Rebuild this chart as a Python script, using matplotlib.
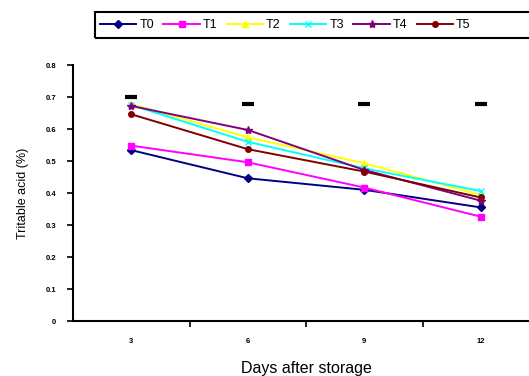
import matplotlib.pyplot as plt
from matplotlib.patches import Rectangle

# storage days (category axis) and titratable acid per treatment
days = ['3', '6', '9', '12']
t0 = [0.534, 0.446, 0.410, 0.355]
t1 = [0.548, 0.496, 0.417, 0.326]
t2 = [0.678, 0.574, 0.493, 0.394]
t3 = [0.675, 0.560, 0.477, 0.406]
t4 = [0.672, 0.597, 0.472, 0.376]
t5 = [0.646, 0.537, 0.467, 0.386]
# the stray black dashes above the lines
dash_vals = [0.699, 0.677, 0.677, 0.677]

series = [('T0', t0, '#000080', 'D', 4),
          ('T1', t1, '#FF00FF', 's', 5),
          ('T2', t2, '#FFFF00', '^', 5),
          ('T3', t3, '#00FFFF', 'x', 5),
          ('T4', t4, '#800080', '*', 6),
          ('T5', t5, '#800000', 'o', 4)]

plt.rcParams['font.family'] = ['Liberation Sans', 'DejaVu Sans']

fig = plt.figure(figsize=(5.29, 3.76), dpi=100)
ax = fig.add_axes([73 / 529, 55 / 376, 466 / 529, 256 / 376])

x = list(range(len(days)))
handles = []
for name, vals, col, mk, ms in series:
    h, = ax.plot(x, vals, '-', color=col, marker=mk, ms=ms, lw=1.4,
                 mec=col, mfc=col, label=name)
    handles.append(h)

ax.plot(x, dash_vals, linestyle='none', marker='_', ms=8, mew=3, color='black')

ax.set_xlim(-0.5, 3.5)
ax.set_ylim(0, 0.8)
ax.set_yticks([0, 0.1, 0.2, 0.3, 0.4, 0.5, 0.6, 0.7, 0.8])
ax.set_yticklabels(['0', '0.1', '0.2', '0.3', '0.4', '0.5', '0.6', '0.7', '0.8'],
                   fontsize=5.5, fontweight='bold')
# category ticks sit between the labels, like Excel
ax.set_xticks([0.5, 1.5, 2.5])
ax.set_xticklabels([])
ax.set_xticks(x, minor=True)
ax.set_xticklabels(days, minor=True, fontsize=5.5, fontweight='bold')
ax.tick_params(axis='x', which='minor', length=0, pad=12)
ax.tick_params(axis='x', which='major', length=4, width=1.2, direction='out')
ax.tick_params(axis='y', length=4, width=1.2, direction='out', pad=8)

for side in ['top', 'right']:
    ax.spines[side].set_visible(False)
for side in ['left', 'bottom']:
    ax.spines[side].set_linewidth(1.5)

ax.set_ylabel('Tritable acid (%)', fontsize=9, labelpad=12)
ax.set_xlabel('Days after storage', fontsize=11.5, labelpad=12)

# legend across the top, frame runs off the right edge
fig.legend(handles=handles, loc='center left', ncol=6,
           bbox_to_anchor=(100 / 529, 1 - 25 / 376), frameon=False,
           fontsize=9, handlelength=2.9, handletextpad=0.25,
           columnspacing=0.75, borderaxespad=0, borderpad=0)
fig.patches.append(Rectangle((95 / 529, 1 - 38 / 376), 460 / 529, 26 / 376,
                             transform=fig.transFigure, fill=False,
                             edgecolor='black', linewidth=1.5))

fig.savefig('out.png', dpi=100)
